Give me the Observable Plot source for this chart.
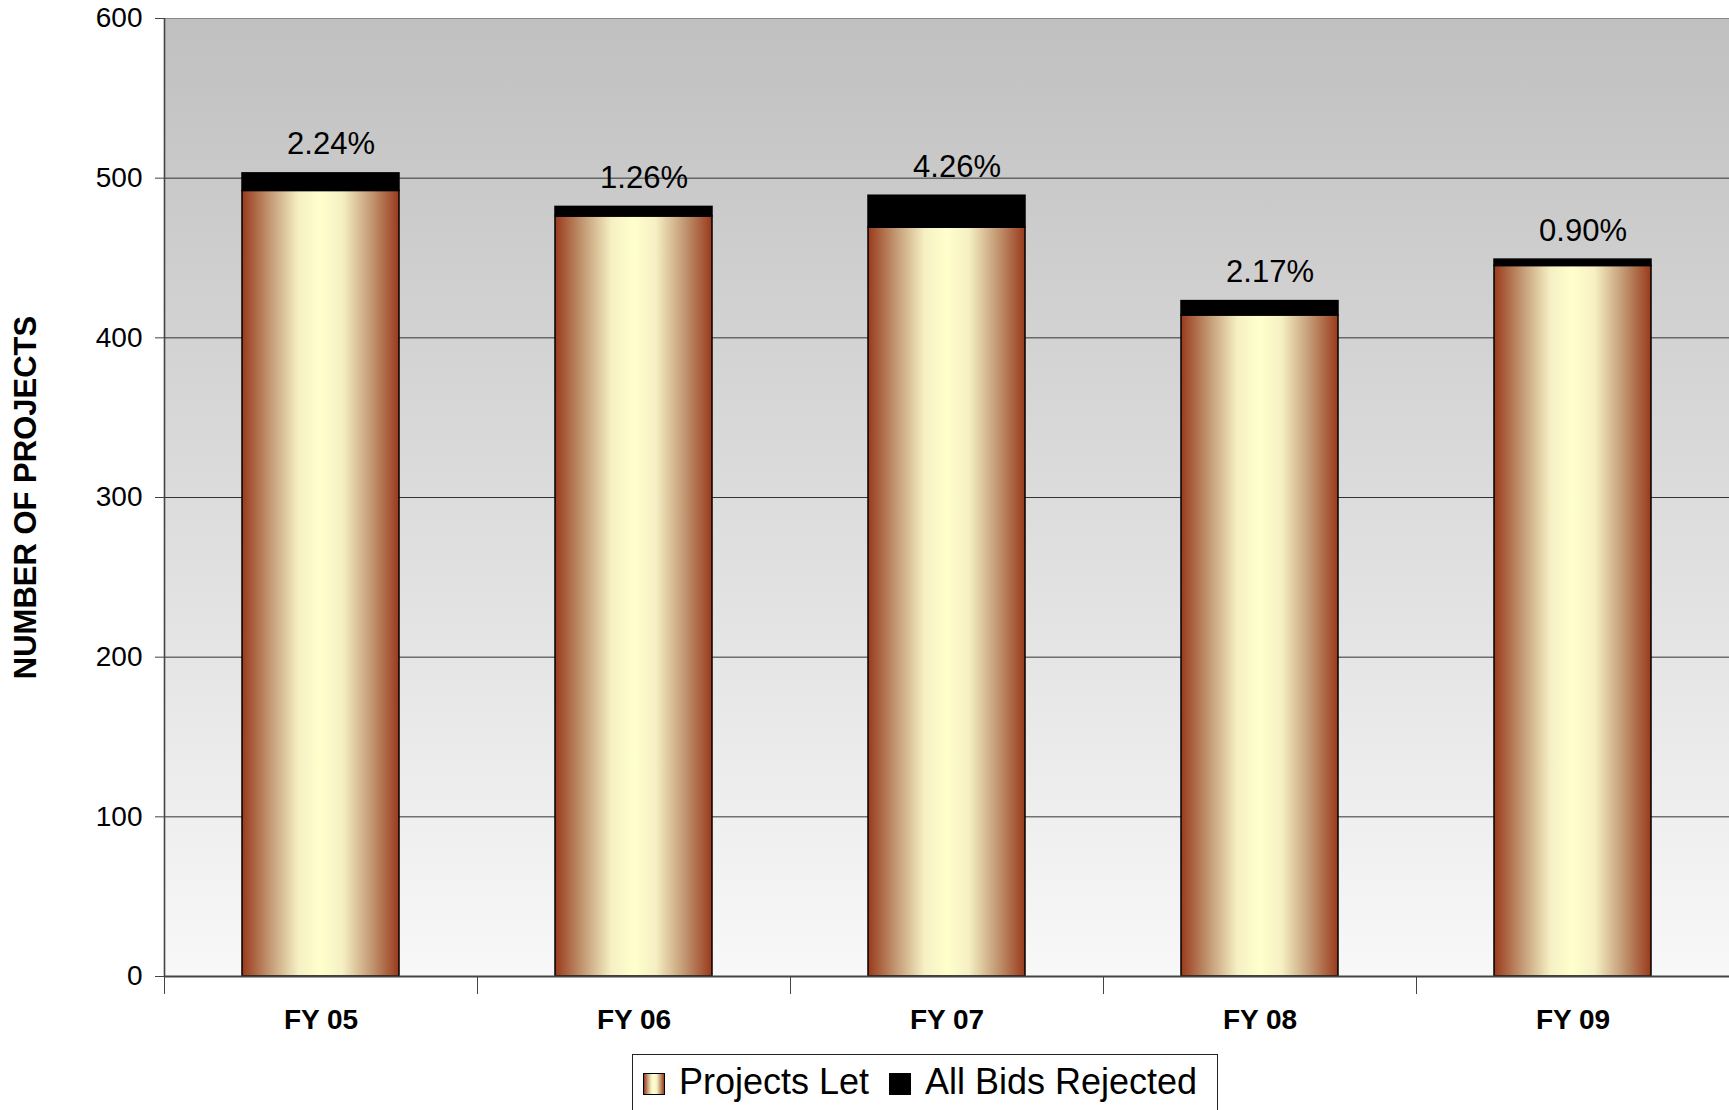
<!DOCTYPE html>
<html>
<head>
<meta charset="utf-8">
<script src="https://cdn.jsdelivr.net/npm/d3@7"></script>
<script src="https://cdn.jsdelivr.net/npm/@observablehq/plot@0.6"></script>
<style>
  html, body { margin: 0; padding: 0; background: #fff; overflow: hidden; }
  body { position: relative; width: 1729px; height: 1110px; font-family: "Liberation Sans", Arial, sans-serif; }
  #chart svg { display: block; }
  #legend {
    position: absolute; left: 632px; top: 1054px; width: 586px; height: 80px;
    border: 1.5px solid #222; box-sizing: border-box; background: #fff;
  }
  #legend .item { position: absolute; top: 9px; font-size: 36px; line-height: 1; color: #000; white-space: nowrap; }
  #legend .sw { position: absolute; top: 18px; width: 22px; height: 22px; box-sizing: border-box; border: 1.5px solid #000; }
</style>
</head>
<body>
<div id="chart"></div>
<div id="legend"></div>
<script>
// ---- data ----
const years = ["FY 05", "FY 06", "FY 07", "FY 08", "FY 09"];
const projectsLet = [492, 476, 469, 414, 445];
const allBidsRejected = [11, 6, 20, 9, 4];
const pctLabels = ["2.24%", "1.26%", "4.26%", "2.17%", "0.90%"];
const yTicks = [0, 100, 200, 300, 400, 500, 600];
const seriesNames = ["Projects Let", "All Bids Rejected"];

const rows = years.map((y, i) => ({
  year: y,
  let: projectsLet[i],
  rej: allBidsRejected[i],
  total: projectsLet[i] + allBidsRejected[i],
  pct: pctLabels[i]
}));

const W = 1729, H = 1050, ML = 164, MR = 0;
const halfStep = (W - ML - MR) / years.length / 2;

const plot = Plot.plot({
  width: W,
  height: H,
  marginLeft: ML,
  marginRight: MR,
  marginTop: 18,
  marginBottom: 74,
  style: { fontFamily: "'Liberation Sans', Arial, sans-serif", fontSize: "28px", background: "transparent", overflow: "visible" },
  x: { domain: years, paddingInner: 0.5, paddingOuter: 0.25, label: null },
  y: { domain: [0, 600], label: null },
  marks: [
    Plot.frame({ fill: "url(#bgGrad)", stroke: null }),
    Plot.gridY(yTicks.filter(t => t > 0 && t < 600), { stroke: "#333", strokeOpacity: 1, strokeWidth: 1 }),
    Plot.ruleY([600], { stroke: "#888", strokeWidth: 1.2 }),
    // left axis line
    Plot.ruleX([years[0]], { x: d => d, y1: 0, y2: 600, dx: -halfStep, stroke: "#444", strokeWidth: 1.6 }),
    Plot.axisY({ ticks: yTicks, tickSize: 9, tickPadding: 13, fontSize: 28, stroke: "#444", fill: "#000" }),
    // category boundary ticks
    Plot.axisX({ ticks: years, tickSize: 18, tickFormat: () => "", dx: -halfStep, stroke: "#444" }),
    Plot.axisX({ ticks: years, tickSize: 0, tickPadding: 33, fontSize: 28, fontWeight: "bold", fill: "#000" }),
    Plot.barY(rows, { x: "year", y1: 0, y2: "let", fill: "url(#barGrad)", stroke: "#000", strokeWidth: 1.5 }),
    Plot.barY(rows, { x: "year", y1: "let", y2: "total", fill: "#000", stroke: "#000", strokeWidth: 1.5 }),
    Plot.ruleY([0], { stroke: "#444", strokeWidth: 2.2 }),
    Plot.text(rows, { x: "year", y: "total", text: "pct", lineAnchor: "bottom", dy: -19, dx: 10, fontSize: 31, fill: "#000" }),
    Plot.text(["NUMBER OF PROJECTS"], { frameAnchor: "left", dx: -138, rotate: -90, fontSize: 31, fontWeight: "bold", fill: "#000", textAnchor: "middle" })
  ]
});

const svg = d3.select(plot.tagName.toLowerCase() === "svg" ? plot : plot.querySelector("svg"));
const defs = svg.insert("defs", ":first-child");
const bg = defs.append("linearGradient").attr("id", "bgGrad").attr("x1", 0).attr("y1", 0).attr("x2", 0).attr("y2", 1);
bg.append("stop").attr("offset", "0%").attr("stop-color", "#c0c0c0");
bg.append("stop").attr("offset", "100%").attr("stop-color", "#f8f8f8");
const bar = defs.append("linearGradient").attr("id", "barGrad").attr("x1", 0).attr("y1", 0).attr("x2", 1).attr("y2", 0);
[["0%", "#993a1c"], ["18%", "#c39a74"], ["36%", "#f6f0c4"], ["50%", "#ffffcc"], ["64%", "#f6f0c4"], ["82%", "#c39a74"], ["100%", "#993a1c"]]
  .forEach(([o, c]) => bar.append("stop").attr("offset", o).attr("stop-color", c));

document.getElementById("chart").appendChild(plot);

// legend
const legend = d3.select("#legend");
const swGrad = "linear-gradient(to right, #993a1c 0%, #c39a74 18%, #f6f0c4 36%, #ffffcc 50%, #f6f0c4 64%, #c39a74 82%, #993a1c 100%)";
legend.append("div").attr("class", "sw").style("left", "10px").style("background", swGrad);
legend.append("div").attr("class", "item").style("left", "46px").text(seriesNames[0]);
legend.append("div").attr("class", "sw").style("left", "256px").style("background", "#000");
legend.append("div").attr("class", "item").style("left", "292px").text(seriesNames[1]);
</script>
</body>
</html>
